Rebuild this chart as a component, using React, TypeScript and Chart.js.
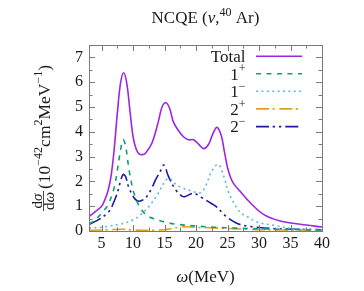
import React, { useEffect, useRef } from 'react';
import { Chart, registerables } from 'chart.js';

Chart.register(...registerables);

// ---- data ----
const totalOmega = [3, 4, 5, 5.5, 6, 6.5, 7, 7.5, 8, 8.5, 9, 9.5, 10, 10.5, 11, 11.5, 12, 13, 14, 14.6, 15.2, 15.8, 16.4, 17.2, 18, 18.8, 19.6, 20.4, 21.2, 22, 22.6, 23.3, 24, 24.5, 25, 25.5, 26, 27, 28.6, 30.7, 33.4, 36.6, 40];
const totalSigma = [0.58, 0.78, 1.0, 1.25, 1.6, 2.2, 3.3, 4.75, 5.95, 6.38, 5.95, 4.85, 3.8, 3.3, 3.1, 3.08, 3.15, 3.55, 4.4, 5.0, 5.17, 4.95, 4.4, 4.05, 3.8, 3.68, 3.68, 3.5, 3.32, 3.5, 3.88, 4.18, 3.85, 3.2, 2.55, 2.15, 1.9, 1.6, 1.14, 0.67, 0.4, 0.27, 0.16];

const onePlusOmega = [3, 4, 5, 6, 7, 7.5, 8, 8.4, 8.8, 9.35, 10, 10.4, 11, 11.75, 12.5, 13.6, 15, 17, 20, 23, 27, 30, 35, 40];
const onePlusSigma = [0.27, 0.45, 0.72, 1.05, 1.75, 2.45, 3.25, 3.68, 3.45, 2.48, 1.65, 1.34, 0.98, 0.73, 0.58, 0.47, 0.36, 0.27, 0.2, 0.15, 0.11, 0.09, 0.06, 0.04];

const oneMinusOmega = [3, 5, 6.2, 8, 8.8, 10, 10.95, 12, 12.55, 13.9, 15.2, 15.8, 16.7, 17.75, 19.35, 20.7, 21.5, 22.5, 23.5, 24.4, 25.2, 26.3, 27.1, 28.1, 29.7, 32.3, 35.5, 40];
const oneMinusSigma = [0.12, 0.15, 0.2, 0.28, 0.33, 0.45, 0.6, 0.85, 1.0, 1.48, 2.05, 2.12, 1.9, 1.74, 1.61, 1.54, 1.81, 2.41, 2.69, 2.21, 1.54, 1.0, 0.73, 0.58, 0.36, 0.23, 0.09, 0.05];

const twoPlusOmega = [3, 5, 7, 8.5, 10, 13, 15, 16.5, 18, 20, 22, 25, 28, 30, 35, 40];
const twoPlusSigma = [0.03, 0.04, 0.06, 0.07, 0.04, 0.03, 0.05, 0.12, 0.17, 0.15, 0.13, 0.1, 0.07, 0.05, 0.04, 0.03];

const twoMinusOmega = [3, 4.6, 6.2, 7, 7.5, 8, 8.4, 8.8, 9.25, 10.15, 10.95, 12, 13, 13.6, 14.3, 14.9, 15.6, 16.7, 17.75, 18.3, 19.6, 20.95, 22.5, 23.3, 24.7, 26.3, 27.5, 29, 32, 36, 40];
const twoMinusSigma = [0.27, 0.47, 0.8, 1.2, 1.54, 2.0, 2.28, 2.2, 1.81, 1.34, 1.2, 1.34, 1.75, 2.08, 2.4, 2.66, 2.21, 1.68, 1.41, 1.39, 1.52, 1.34, 1.1, 0.96, 0.6, 0.33, 0.23, 0.17, 0.1, 0.07, 0.05];

const xTickValues = [5, 10, 15, 20, 25, 30, 35, 40];
const yTickValues = [0, 1, 2, 3, 4, 5, 6, 7];
const xMinorStep = 2.5;
const yMinorStep = 0.5;

const legendBase = ['Total', '1', '1', '2', '2'];
const legendSup = ['', '+', '\u2212', '+', '\u2212'];

// ---- styles ----
const FONT = "'Liberation Serif', 'Times New Roman', serif";
const TEXT = '#1a1a1a';
const FRAME = '#7a7a7a';
const colors = ['#9b27e3', '#0e9f74', '#5cb6ea', '#e5a219', '#1a1aa6'];
const dashes: number[][] = [[], [5, 5.5], [2, 3.4], [13, 3.5, 2.3, 4.5], [13, 3.7, 2.3, 4, 2.3, 4]];

type Seg = { t: string; sup?: boolean; it?: boolean };

function fontFor(s: Seg, size: number) {
  const sz = s.sup ? Math.round(size * 0.7) : size;
  return `${s.it ? 'italic ' : ''}${sz}px ${FONT}`;
}
function richWidth(ctx: CanvasRenderingContext2D, segs: Seg[], size: number) {
  let w = 0;
  for (const s of segs) {
    ctx.font = fontFor(s, size);
    w += ctx.measureText(s.t).width;
  }
  return w;
}
function drawRich(ctx: CanvasRenderingContext2D, segs: Seg[], x: number, y: number, align: 'left' | 'center' | 'right', size: number) {
  const total = richWidth(ctx, segs, size);
  let cx = align === 'left' ? x : align === 'center' ? x - total / 2 : x - total;
  ctx.textAlign = 'left';
  ctx.textBaseline = 'alphabetic';
  for (const s of segs) {
    ctx.font = fontFor(s, size);
    ctx.fillText(s.t, cx, y - (s.sup ? size * 0.42 : 0));
    cx += ctx.measureText(s.t).width;
  }
  return total;
}

const decorPlugin = {
  id: 'decor',
  afterDatasetsDraw(chart: any) {
    const ctx: CanvasRenderingContext2D = chart.ctx;
    const { left, right, top, bottom } = chart.chartArea;
    const xs = chart.scales.x;
    const ys = chart.scales.y;
    ctx.save();
    // frame
    ctx.strokeStyle = FRAME;
    ctx.lineWidth = 1;
    ctx.strokeRect(Math.round(left) + 0.5, Math.round(top) + 0.5, Math.round(right - left), Math.round(bottom - top));
    // ticks (inward, mirrored)
    ctx.beginPath();
    for (let v = xTickValues[0]; v <= xs.max + 1e-9; v += xMinorStep) {
      const major = xTickValues.includes(v);
      const L = major ? 6 : 3.5;
      const px = Math.round(xs.getPixelForValue(v)) + 0.5;
      ctx.moveTo(px, bottom); ctx.lineTo(px, bottom - L);
      ctx.moveTo(px, top); ctx.lineTo(px, top + L);
    }
    for (let v = 0; v < ys.max - 1e-9; v += yMinorStep) {
      const major = yTickValues.includes(v);
      const L = major ? 6 : 3.5;
      const py = Math.round(ys.getPixelForValue(v)) + 0.5;
      ctx.moveTo(left, py); ctx.lineTo(left + L, py);
      ctx.moveTo(right, py); ctx.lineTo(right - L, py);
    }
    ctx.stroke();

    ctx.fillStyle = TEXT;
    // title
    const cxPlot = (left + right) / 2;
    drawRich(ctx, [{ t: 'NCQE (' }, { t: '\u03bd', it: true }, { t: ',' }, { t: '40', sup: true }, { t: ' Ar)' }], cxPlot, 23, 'center', 17);
    // x label
    drawRich(ctx, [{ t: '\u03c9', it: true }, { t: '(MeV)' }], cxPlot, 282, 'center', 17);

    // y label (rotated)
    ctx.save();
    ctx.translate(42, (top + bottom) / 2);
    ctx.rotate(-Math.PI / 2);
    const fs = 15;
    const num: Seg[] = [{ t: 'd' }, { t: '\u03c3', it: true }];
    const den: Seg[] = [{ t: 'd' }, { t: '\u03c9', it: true }];
    const main: Seg[] = [{ t: '(10' }, { t: '\u221242', sup: true }, { t: 'cm' }, { t: '2', sup: true }, { t: 'MeV' }, { t: '\u22121', sup: true }, { t: ')' }];
    const nw = richWidth(ctx, num, fs);
    const dw = richWidth(ctx, den, fs);
    const fw = Math.max(nw, dw) + 2;
    const mw = richWidth(ctx, main, 17.5);
    const gap = 2;
    const u0 = -(fw + gap + mw) / 2;
    drawRich(ctx, num, u0 + fw / 2, -0.5, 'center', fs);
    drawRich(ctx, den, u0 + fw / 2, 12, 'center', fs);
    ctx.fillRect(u0, 1.2, fw, 0.8);
    drawRich(ctx, main, u0 + fw + gap, 7.5, 'left', 17.5);
    ctx.restore();

    // legend
    const rowY = [56.3, 73.8, 91.3, 108.9, 126.6];
    for (let i = 0; i < legendBase.length; i++) {
      const y = rowY[i];
      ctx.fillStyle = TEXT;
      const segs: Seg[] = [{ t: legendBase[i] }];
      if (legendSup[i]) segs.push({ t: legendSup[i], sup: true });
      drawRich(ctx, segs, 245.5, y + 5.8, 'right', 17);
      ctx.strokeStyle = colors[i];
      ctx.lineWidth = 1.6;
      ctx.setLineDash(dashes[i]);
      ctx.beginPath();
      ctx.moveTo(256, y);
      ctx.lineTo(302, y);
      ctx.stroke();
    }
    ctx.setLineDash([]);
    ctx.restore();
  },
};

function series(label: string, xs: number[], ys: number[], i: number) {
  return {
    label,
    data: xs.map((x, k) => ({ x, y: ys[k] })),
    borderColor: colors[i],
    backgroundColor: colors[i],
    borderWidth: 1.6,
    borderDash: dashes[i],
    pointRadius: 0,
    fill: false,
    tension: 0.35,
  };
}

export default function App() {
  const ref = useRef<HTMLCanvasElement | null>(null);
  useEffect(() => {
    document.body.style.margin = '0';
    const canvas = ref.current;
    if (!canvas) return;
    const chart = new Chart(canvas, {
      type: 'line',
      data: {
        datasets: [
          series('Total', totalOmega, totalSigma, 0),
          series('1+', onePlusOmega, onePlusSigma, 1),
          series('1-', oneMinusOmega, oneMinusSigma, 2),
          series('2+', twoPlusOmega, twoPlusSigma, 3),
          series('2-', twoMinusOmega, twoMinusSigma, 4),
        ],
      },
      options: {
        responsive: false,
        animation: false,
        devicePixelRatio: 1,
        layout: { padding: { top: 45, right: 42, left: 0, bottom: 0 } },
        plugins: { legend: { display: false }, title: { display: false }, tooltip: { enabled: false } },
        scales: {
          x: {
            type: 'linear',
            min: 3,
            max: 40,
            grid: { display: false, drawTicks: false },
            border: { display: false },
            afterBuildTicks: (s: any) => { s.ticks = xTickValues.map((v) => ({ value: v })); },
            afterFit: (s: any) => { s.height = 60; },
            ticks: {
              padding: 3,
              maxRotation: 0,
              autoSkip: false,
              color: TEXT,
              font: { family: FONT, size: 16 },
              callback: (v: any) => String(v),
            },
          },
          y: {
            type: 'linear',
            min: 0,
            max: 7.5,
            grid: { display: false, drawTicks: false },
            border: { display: false },
            afterBuildTicks: (s: any) => { s.ticks = yTickValues.map((v) => ({ value: v })); },
            afterFit: (s: any) => { s.width = 89; },
            ticks: {
              padding: 6,
              autoSkip: false,
              color: TEXT,
              font: { family: FONT, size: 16 },
              callback: (v: any) => String(v),
            },
          },
        },
      },
      plugins: [decorPlugin],
    });
    return () => chart.destroy();
  }, []);
  return (
    <div style={{ position: 'fixed', left: 0, top: 0, width: 364, height: 291, background: '#fff' }}>
      <canvas ref={ref} width={364} height={291} style={{ width: 364, height: 291, display: 'block' }} />
    </div>
  );
}
